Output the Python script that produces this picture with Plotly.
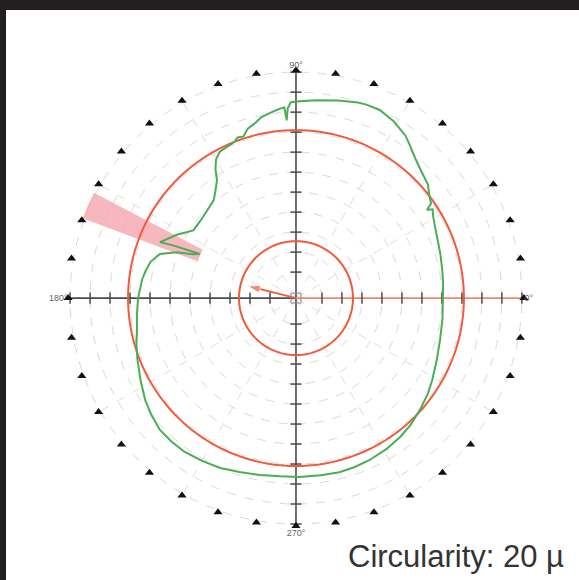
import plotly.graph_objects as go

# ---- data (radial units = display radius) ----
GREEN_THETA = [0, 6, 11, 17, 22, 28, 31, 33, 34, 35, 38, 40.6, 45, 49, 53, 56, 61, 66, 70, 73, 78, 84, 89, 91.5,
               92.5, 93, 93.5, 95, 96, 99, 101, 103, 104.5, 106, 108, 110, 111.5, 113, 115, 117.5, 120, 122,
               123.8, 127, 130, 135, 141, 146.6, 152, 157.6, 156.7, 155.4, 157, 159, 162, 166, 170, 173, 180,
               186, 191, 196, 201, 208, 214, 219, 224, 229, 234, 240, 246, 252, 258.5, 265, 271, 278, 284,
               289, 294.5, 301, 307, 312, 318, 324, 329, 336, 344, 352, 360]
GREEN_R = [147, 148, 149, 151, 153, 157, 160, 163, 158, 165, 169, 174, 178, 183, 190, 196, 202, 206, 206, 205,
           202, 199, 197, 196, 190, 178, 191, 190, 189, 186, 184, 180, 178, 176, 170, 171, 168, 167, 166, 165,
           160, 152, 142, 134, 128, 125, 123, 123, 135, 147, 132, 106, 112, 128, 143, 150, 153, 155, 158,
           160, 162, 166, 170, 176, 182, 186, 189.5, 190, 190, 188, 186, 183, 180.6, 179, 179, 179, 179.5,
           179, 178, 176, 173.6, 171, 167, 163, 159, 154, 150, 148, 147]
BIG_CIRCLE_R = 168
SMALL_CIRCLE_R = 57
OUTER_R = 228
TICK_R = [26, 46, 66, 86, 106, 126, 146, 166, 186, 206, 226]
MARKER_THETA = list(range(0, 360, 10))
WEDGE_THETA = 156
WEDGE_WIDTH = 7
WEDGE_INNER = 105
ARROW_THETA = 166
ARROW_R = 49.5
ANGLE_TICKS = list(range(0, 360, 30))
ANGLE_LABELS = {0: "0°", 90: "90°", 180: "180°", 270: "270°"}

RED = "#ef5b3c"
GREEN = "#4aae55"
AXIS = "#4d4d4d"

fig = go.Figure()

# pink wedge
fig.add_trace(go.Barpolar(r=[OUTER_R - WEDGE_INNER], base=[WEDGE_INNER], theta=[WEDGE_THETA],
                          width=[WEDGE_WIDTH], marker=dict(color="rgba(243,160,168,0.75)", line_width=0),
                          hoverinfo="skip"))

# cross axes
fig.add_trace(go.Scatterpolar(r=[OUTER_R, 0], theta=[180, 180], mode="lines",
                              line=dict(color=AXIS, width=1.6), hoverinfo="skip"))
fig.add_trace(go.Scatterpolar(r=[OUTER_R, 0, OUTER_R], theta=[90, 90, 270], mode="lines",
                              line=dict(color=AXIS, width=1.6), hoverinfo="skip"))
fig.add_trace(go.Scatterpolar(r=[0, OUTER_R], theta=[0, 0], mode="lines",
                              line=dict(color="#f28a6a", width=1.6), hoverinfo="skip"))
# tick marks on cross axes
fig.add_trace(go.Scatterpolar(r=TICK_R * 2, theta=[0] * len(TICK_R) + [180] * len(TICK_R), mode="markers",
                              marker=dict(symbol="line-ns", size=8, line=dict(color=AXIS, width=1.5)),
                              hoverinfo="skip"))
fig.add_trace(go.Scatterpolar(r=TICK_R * 2, theta=[90] * len(TICK_R) + [270] * len(TICK_R), mode="markers",
                              marker=dict(symbol="line-ew", size=8, line=dict(color=AXIS, width=1.5)),
                              hoverinfo="skip"))

# red circles
circ_theta = list(range(0, 361, 2))
fig.add_trace(go.Scatterpolar(r=[BIG_CIRCLE_R] * len(circ_theta), theta=circ_theta, mode="lines",
                              line=dict(color=RED, width=2), hoverinfo="skip"))
fig.add_trace(go.Scatterpolar(r=[SMALL_CIRCLE_R] * len(circ_theta), theta=circ_theta, mode="lines",
                              line=dict(color=RED, width=2), hoverinfo="skip"))

# green profile
fig.add_trace(go.Scatterpolar(r=GREEN_R, theta=GREEN_THETA, mode="lines",
                              line=dict(color=GREEN, width=2), hoverinfo="skip"))

# red arrow
fig.add_trace(go.Scatterpolar(r=[0, ARROW_R], theta=[ARROW_THETA, ARROW_THETA], mode="lines+markers",
                              line=dict(color=RED, width=1.8),
                              marker=dict(symbol=["triangle-right", "arrow"], size=[11, 13], color=RED,
                                          angleref="previous"),
                              hoverinfo="skip"))
# centre square
fig.add_trace(go.Scatterpolar(r=[0], theta=[0], mode="markers",
                              marker=dict(symbol="square-open", size=10, color="#8a8a8a",
                                          line=dict(width=1)),
                              hoverinfo="skip"))

# outer triangles
fig.add_trace(go.Scatterpolar(r=[OUTER_R] * len(MARKER_THETA), theta=MARKER_THETA, mode="markers",
                              marker=dict(symbol="triangle-up", size=8, color="#111111"),
                              hoverinfo="skip"))

fig.update_layout(
    width=579, height=580,
    margin=dict(l=0, r=0, t=0, b=0),
    paper_bgcolor="white",
    showlegend=False,
    polar=dict(
        domain=dict(x=[0.1174, 0.905], y=[0.0931, 0.879]),
        bgcolor="white",
        radialaxis=dict(range=[0, OUTER_R], tickvals=TICK_R, showticklabels=False, ticks="",
                        showline=False, gridcolor="#d9d9d9", griddash="dash", gridwidth=1),
        angularaxis=dict(rotation=0, direction="counterclockwise", tickvals=ANGLE_TICKS,
                         ticktext=[ANGLE_LABELS.get(a, "") for a in ANGLE_TICKS],
                         showline=False, ticks="", gridcolor="#dedede", griddash="dash",
                         tickfont=dict(size=9, color="#666666", family="Liberation Sans")),
    ),
    shapes=[
        dict(type="rect", xref="paper", yref="paper", x0=0, x1=1, y0=1 - 10 / 580, y1=1,
             fillcolor="#231f20", line=dict(width=0), layer="above"),
        dict(type="rect", xref="paper", yref="paper", x0=0, x1=6 / 579, y0=0, y1=1,
             fillcolor="#231f20", line=dict(width=0), layer="above"),
    ],
    annotations=[
        dict(text="Circularity: 20 µ", xref="paper", yref="paper", x=0.977, y=0.041,
             xanchor="right", yanchor="middle", showarrow=False,
             font=dict(size=31, color="#333333", family="Liberation Sans")),
    ],
)

fig.write_html("out.html", config={"displayModeBar": False},
               post_script="document.body.style.margin='0px';")
